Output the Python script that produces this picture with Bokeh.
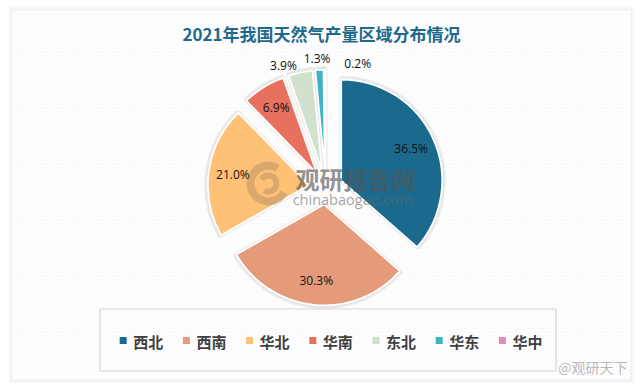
import numpy as np
from bokeh.plotting import figure
from bokeh.models import Range1d, ColumnDataSource
from bokeh.core.properties import value
from bokeh.embed import file_html
from bokeh.resources import INLINE

# ---------------- data ----------------
title = "2021年我国天然气产量区域分布情况"
categories = ["西北", "西南", "华北", "华南", "东北", "华东", "华中"]
shares = [36.5, 30.3, 21.0, 6.9, 3.9, 1.3, 0.2]
colors = ["#1B6A8E", "#E59A7A", "#FFC176", "#E8705F", "#D2E1CD", "#3DB3C3", "#E08DB8"]

# ---------------- layout (page pixels) ----------------
W, H = 640, 388
def X(x):  # page x -> data x
    return x
def Y(y):  # page y -> data y
    return H - y

CX, CY = 325.2, 187.0      # pie centre on page
R = 101.0                   # radius
EXPLODE = 17.0
label_inside = [True, True, True, True, False, False, False]
label_nudge_deg = [0, 0, 0, 0, -7.7, -0.9, 17.0]

p = figure(width=W, height=H, x_range=Range1d(0, W), y_range=Range1d(0, H),
           output_backend="svg", toolbar_location=None, min_border=0,
           x_axis_location=None, y_axis_location=None)
p.grid.visible = False
p.outline_line_color = None
p.background_fill_color = "white"
p.border_fill_color = "white"

# chart frame with soft shadow and diagonal stripes
for k, a in [(4, 0.25), (2, 0.4)]:
    p.quad(left=X(12 - k), right=X(630 + k), top=Y(10 - k), bottom=Y(379 + k),
           fill_color="#e6e6e6", fill_alpha=a, line_color=None)
p.quad(left=X(12), right=X(630), top=Y(10), bottom=Y(379),
       fill_color="#f2f2f2", line_color=None,
       hatch_pattern="left_diagonal_line", hatch_color="white",
       hatch_scale=3.5, hatch_weight=1.4)

# title
p.text(x=[X(321)], y=[Y(33)], text=[title], text_align="center", text_baseline="middle",
       text_font=value("Noto Sans CJK SC"), text_font_size="17px", text_font_style="bold",
       text_color="#1F6A8C")

# ---------------- pie ----------------
vals = np.array(shares, dtype=float)
frac = vals / vals.sum()
theta_end = np.cumsum(frac) * 2 * np.pi          # clockwise from 12 o'clock
theta_start = theta_end - frac * 2 * np.pi
theta_mid = (theta_start + theta_end) / 2

ux = np.sin(theta_mid)
uy = np.cos(theta_mid)          # data y is up
cx = X(CX) + EXPLODE * ux
cy = Y(CY) + EXPLODE * uy

src = ColumnDataSource(dict(
    x=cx, y=cy,
    start=np.pi / 2 - theta_start,
    end=np.pi / 2 - theta_end,
    color=colors, cat=categories,
))

# shadow
p.wedge(x="x", y="y", radius=R + 1.5, start_angle="start", end_angle="end",
        direction="clock", source=src, fill_color="#bdbdbd", fill_alpha=0.35,
        line_color="#c8c8c8", line_alpha=0.35, line_width=4)
p.wedge(x="x", y="y", radius=R, start_angle="start", end_angle="end",
        direction="clock", source=src, fill_color="color",
        line_color="white", line_width=1.8)

# watermark (centre)
p.annular_wedge(x=[X(268), X(268)], y=[Y(183), Y(183)],
                inner_radius=[14, 5], outer_radius=[22, 11],
                start_angle=[np.radians(60), np.radians(240)],
                end_angle=[np.radians(330), np.radians(150)],
                fill_color="#b89366", fill_alpha=0.55, line_color=None)
p.text(x=[X(355)], y=[Y(178)], text=["观研报告网"], text_align="center", text_baseline="middle",
       text_font=value("Noto Sans CJK SC"), text_font_size="24px", text_font_style="bold",
       text_color="#555555", text_alpha=0.65)
p.text(x=[X(352)], y=[Y(199)], text=["chinabaogao.com"], text_align="center", text_baseline="middle",
       text_font=value("Open Sans"), text_font_size="14.5px",
       text_color="#666666", text_alpha=0.6)

# slice labels
lx, ly, lt = [], [], []
for i, v in enumerate(shares):
    if label_inside[i]:
        ang = theta_mid[i]
        rr = 0.76 * R
    else:
        ang = theta_mid[i] + np.radians(label_nudge_deg[i])
        rr = 1.11 * R
    lx.append(cx[i] + rr * np.sin(ang))
    ly.append(cy[i] + rr * np.cos(ang))
    lt.append(f"{v:.1f}%")
p.text(x=lx, y=ly, text=lt, text_align="center", text_baseline="middle",
       text_font=value("Open Sans"), text_font_size="12px", text_color="#111111")

# ---------------- legend ----------------
p.quad(left=X(99.5), right=X(555.5), top=Y(308.5), bottom=Y(370.5),
       fill_color=None, line_color="#d6d6d6", line_width=1.2)
leg_x0, leg_dx, leg_y = 122.7, 63.2, 340
sq_x = [X(leg_x0 + i * leg_dx) for i in range(len(categories))]
p.rect(x=sq_x, y=[Y(leg_y)] * len(categories), width=7, height=7,
       fill_color=colors, line_color=None)
p.text(x=[s + 10 for s in sq_x], y=[Y(leg_y + 0.5)] * len(categories), text=categories,
       text_align="left", text_baseline="middle",
       text_font=value("Noto Sans CJK SC"), text_font_size="15px", text_font_style="bold",
       text_color="#404040")

# bottom-right watermark
p.text(x=[X(627)], y=[Y(366)], text=["@观研天下"], text_align="right", text_baseline="middle",
       text_font=value("Noto Sans CJK SC"), text_font_size="14px",
       text_color="#b0b0b0", text_alpha=0.9)

open("out.html", "w").write(file_html(p, INLINE))
